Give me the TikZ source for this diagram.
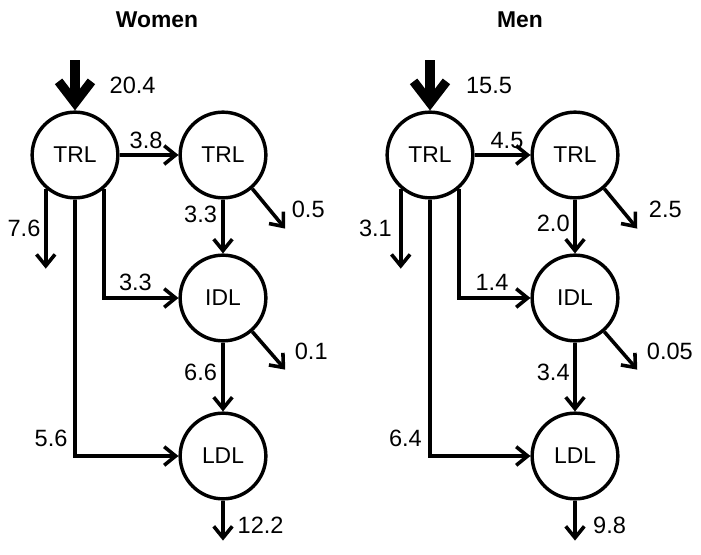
\documentclass[tikz,border=0pt]{standalone}
\usepackage{fontspec}
\setmainfont{Liberation Sans}
\usetikzlibrary{arrows.meta,positioning}

\begin{document}
\begin{tikzpicture}[x=0.7pt, y=-0.7pt,
    every node/.style={font=\fontsize{16.5}{19}\selectfont, inner sep=2pt},
    pool/.style={circle, draw, line width=2.4pt, minimum size=60pt, inner sep=0pt,
      font=\fontsize{16}{19}\selectfont},
    flow/.style={line width=2.5pt, -{Straight Barb[length=8pt,width=13pt]}},
    intake/.style={line width=6.5pt, -{Straight Barb[length=15pt,width=23pt]}},
    title/.style={font=\bfseries\fontsize{16}{19}\selectfont}]
  \useasboundingbox (0,0) rectangle (701,554);

  % women
  \node[title] (wT) at (157,20) {Women};
  \node[pool] (wA) at (75,155) {TRL};
  \node[pool] (wB) at (223,155) {TRL};
  \node[pool] (wC) at (223,298) {IDL};
  \node[pool] (wD) at (223,456) {LDL};
  \coordinate (wIn) at (75,60);
  \draw[intake] (wIn) -- node[right=19pt]{20.4} (wA);
  \path[flow]
    (wA) edge node[above=1pt, pos=0.45]{3.8} (wB)
    (wB) edge node[left=1pt, pos=0.28]{3.3} (wC)
    (wC) edge node[left=1pt, pos=0.43]{6.6} (wD);
  \draw[flow] (wA.-131) -- node[left=0.5pt]{7.6} ++(0,80);
  \draw[flow] (wA.-49) |- node[above=2pt, pos=0.71]{3.3} (wC);
  \draw[flow] (wA) |- node[left=2pt, pos=0.465]{5.6} (wD);
  \draw[flow] (wB.-49) -- ++(33,40) node[right, shift={(2,-19)}]{0.5};
  \draw[flow] (wC.-49) -- ++(33,38) node[right, shift={(5,-18)}]{0.1};
  \draw[flow] (wD.south) -- node[right=7pt, pos=0.62]{12.2} ++(0,40);

  % men
  \node[title] (mT) at (520,20) {Men};
  \node[pool] (mA) at (430,155) {TRL};
  \node[pool] (mB) at (575,155) {TRL};
  \node[pool] (mC) at (575,298) {IDL};
  \node[pool] (mD) at (575,456) {LDL};
  \coordinate (mIn) at (430,60);
  \draw[intake] (mIn) -- node[right=20pt]{15.5} (mA);
  \path[flow]
    (mA) edge node[above=1pt, pos=0.58]{4.5} (mB)
    (mB) edge node[left=0.5pt, pos=0.44]{2.0} (mC)
    (mC) edge node[left=0.5pt, pos=0.44]{3.4} (mD);
  \draw[flow] (mA.-131) -- node[left=3pt]{3.1} ++(0,80);
  \draw[flow] (mA.-49) |- node[above=2pt, pos=0.73]{1.4} (mC);
  \draw[flow] (mA) |- node[left=2.5pt, pos=0.465]{6.4} (mD);
  \draw[flow] (mB.-49) -- ++(33,40) node[right, shift={(7,-19)}]{2.5};
  \draw[flow] (mC.-49) -- ++(33,38) node[right, shift={(5,-18)}]{0.05};
  \draw[flow] (mD.south) -- node[right=9.5pt, pos=0.62]{9.8} ++(0,40);
\end{tikzpicture}
\end{document}
